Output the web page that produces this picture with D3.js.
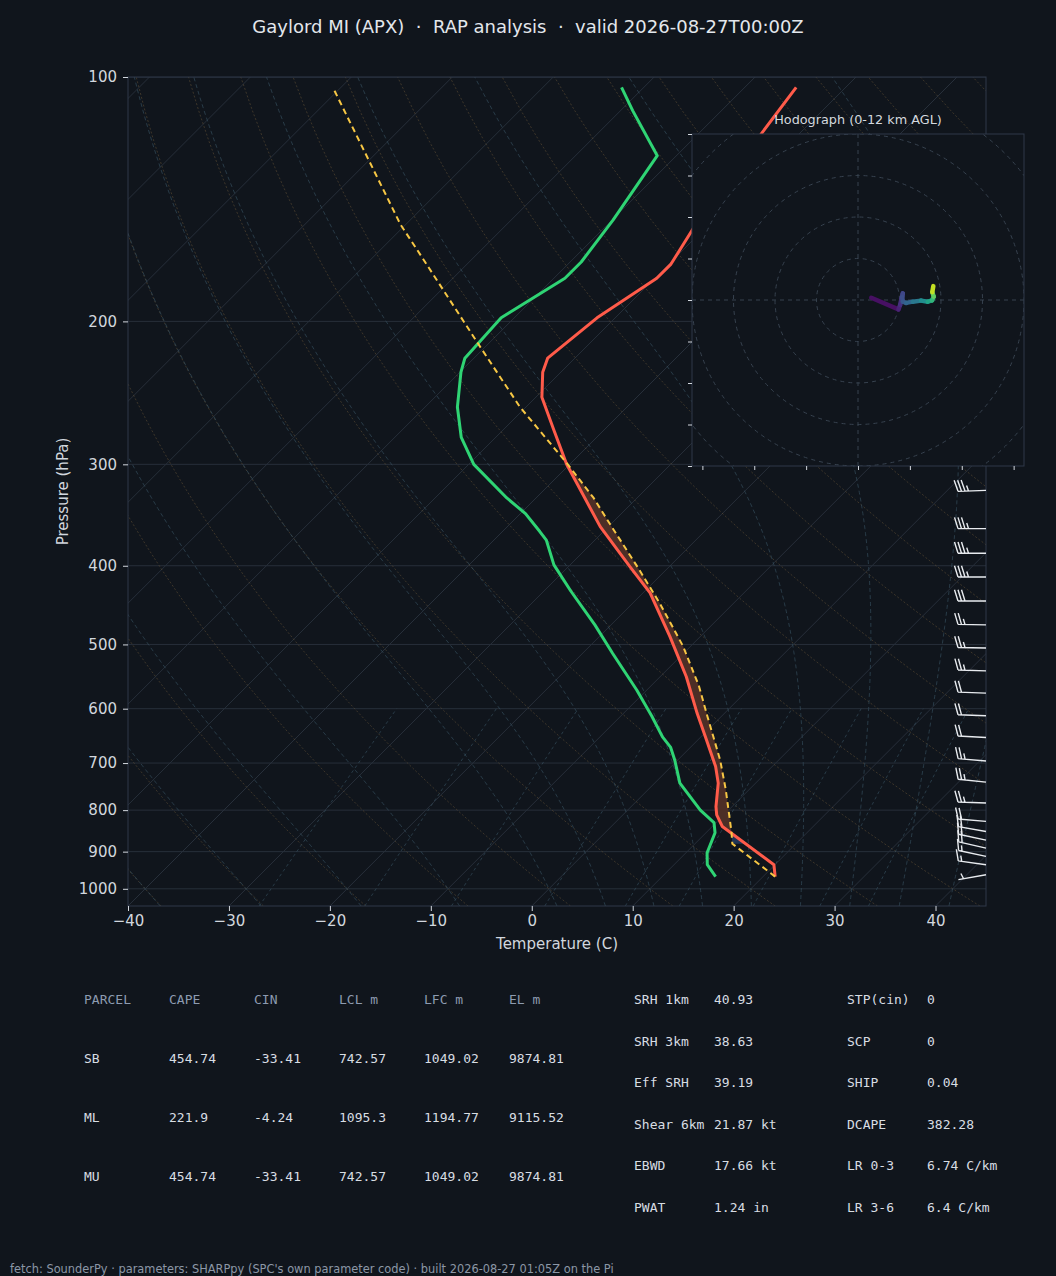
<!DOCTYPE html>
<html>
<head>
<meta charset="utf-8">
<script src="https://cdn.jsdelivr.net/npm/d3@7"></script>
<style>
  body { margin: 0; background: #10151c; }
  text { font-family: "DejaVu Sans", sans-serif; }
  .mono { font-family: "DejaVu Sans Mono", monospace; }
</style>
</head>
<body>
<svg id="chart" width="1056" height="1276"></svg>
<script>
// ---- sounding values ----
const tempPres = [966, 934, 838, 811, 792, 741, 707, 652, 608, 548, 489, 432, 401, 358, 300, 272, 248, 231, 222, 198, 177, 170, 154, 117, 103];
const tempC    = [21.2, 19.9, 11.0, 9.3, 8.4, 6.3, 4.4, 0.6, -2.7, -7.4, -13.0, -19.3, -23.9, -30.8, -40.3, -45.0, -49.4, -51.8, -52.7, -51.8, -49.8, -49.8, -51.1, -53.8, -54.9];

const dwptPres = [966, 934, 903, 853, 829, 800, 741, 694, 669, 650, 613, 569, 513, 473, 430, 399, 372, 363, 345, 330, 300, 278, 255, 231, 222, 198, 177, 169, 150, 125, 110, 103];
const dwptC    = [15.3, 13.3, 12.1, 10.9, 9.8, 7.2, 2.5, -0.3, -2.0, -3.8, -6.9, -11.0, -17.0, -21.6, -27.3, -31.6, -34.8, -36.3, -39.5, -42.9, -49.5, -53.4, -56.8, -59.9, -60.9, -61.3, -58.9, -58.9, -59.9, -61.9, -68.8, -72.2];

const parcelPres = [966, 880, 850, 755, 694, 613, 563, 503, 445, 405, 351, 330, 299, 255, 215, 166, 152, 103];
const parcelC    = [21.2, 13.7, 12.4, 7.7, 4.2, -1.4, -5.2, -10.7, -17.3, -22.6, -30.8, -34.3, -40.4, -50.6, -60.5, -75.4, -80.5, -100.8];

// LCL pressure, top of CIN band, EL-ish top of CAPE band (hPa)
const lclPres = 880;
const cinTopPres = 820;
const capeTopPres = 290;

// wind barbs
const barbPres = [961, 934, 912, 891, 871, 850, 826, 784, 739, 696, 651, 612, 574, 539, 505, 473, 442, 413, 386, 360, 323];
const barbSpd  = [5, 15, 15, 20, 20, 20, 20, 25, 25, 25, 20, 20, 20, 25, 25, 25, 30, 35, 35, 35, 35];
const barbDir  = [260, 278, 282, 283, 282, 280, 275, 272, 276, 275, 273, 272, 272, 272, 271, 271, 270, 270, 270, 270, 268];

// hodograph (kt) and height (km AGL)
const hodoU = [6.4, 19.5, 20.3, 21.0, 21.6, 21.3, 21.6, 23.2, 26.4, 30.4, 33.6, 35.7, 36.5, 35.8, 36.3];
const hodoV = [1.1, -4.5, -2.4, 0.8, 3.2, 1.5, -0.8, -1.4, -0.8, -0.3, -0.8, -0.2, 1.6, 3.8, 6.7];
const hodoH = [0, 1.0, 1.4, 1.9, 2.4, 2.7, 3.0, 3.5, 4.3, 5.3, 6.5, 7.4, 8.4, 9.8, 12];

// ticks
const pressureTicks = [100, 200, 300, 400, 500, 600, 700, 800, 900, 1000];
const tempTicks = [-40, -30, -20, -10, 0, 10, 20, 30, 40];
const hodoUTicks = [-75, -50, -25, 0, 25, 50, 75];
const hodoVTicks = [-80, -60, -40, -20, 0, 20, 40, 60, 80];
const hodoRings = [20, 40, 60, 80, 100, 120];

// parameter tables
const parcelHeader = ["PARCEL", "CAPE", "CIN", "LCL m", "LFC m", "EL m"];
const parcelRows = [
  ["SB", "454.74", "-33.41", "742.57", "1049.02", "9874.81"],
  ["ML", "221.9", "-4.24", "1095.3", "1194.77", "9115.52"],
  ["MU", "454.74", "-33.41", "742.57", "1049.02", "9874.81"]
];
const kinLabels = ["SRH 1km", "SRH 3km", "Eff SRH", "Shear 6km", "EBWD", "PWAT"];
const kinValues = ["40.93", "38.63", "39.19", "21.87 kt", "17.66 kt", "1.24 in"];
const thermoLabels = ["STP(cin)", "SCP", "SHIP", "DCAPE", "LR 0-3", "LR 3-6"];
const thermoValues = ["0", "0", "0.04", "382.28", "6.74 C/km", "6.4 C/km"];

const titleText = "Gaylord MI (APX)  \u00b7  RAP analysis  \u00b7  valid 2026-08-27T00:00Z";
const footerText = "fetch: SounderPy \u00b7 parameters: SHARPpy (SPC's own parameter code) \u00b7 built 2026-08-27 01:05Z on the Pi";

// ---- layout ----
const bg = "#10151c";
const gridColor = "#272f3a";
const spineColor = "#2e3948";
const tickText = "#d2d7de";
const plotLeft = 128, plotTop = 77, plotW = 858, plotH = 829;

const svg = d3.select("#chart");
svg.append("rect").attr("width", 1056).attr("height", 1276).attr("fill", bg);

const xScale = d3.scaleLinear().domain([-40, 45]).range([0, plotW]);
const yScale = d3.scaleLog().domain([1050, 100]).range([plotH, 0]);
// 45 degree skew in screen space
function skewX(t, p) { return xScale(t) + (plotH - yScale(p)); }

svg.append("defs").append("clipPath").attr("id", "plotClip")
  .append("rect").attr("width", plotW).attr("height", plotH);

const plot = svg.append("g").attr("transform", `translate(${plotLeft},${plotTop})`);
const inner = plot.append("g").attr("clip-path", "url(#plotClip)");

const skewLine = d3.line().x(d => skewX(d.t, d.p)).y(d => yScale(d.p));

// background pressure grid
inner.selectAll(".pgrid").data(pressureTicks).enter().append("line")
  .attr("x1", 0).attr("x2", plotW)
  .attr("y1", d => yScale(d)).attr("y2", d => yScale(d))
  .attr("stroke", gridColor).attr("stroke-width", 1);

// isotherms
inner.selectAll(".iso").data(d3.range(-130, 50, 10)).enter().append("line")
  .attr("x1", d => skewX(d, 1050)).attr("y1", yScale(1050))
  .attr("x2", d => skewX(d, 100)).attr("y2", yScale(100))
  .attr("stroke", gridColor).attr("stroke-width", 1);

// dry adiabats (MetPy-style families, reference 1000 hPa)
const bgPres = d3.range(0, 96).map(i => 1050 - i * 10);
const dryT0 = d3.range(-40, 250, 10);
dryT0.forEach(t0 => {
  const pts = bgPres.map(p => ({p: p, t: (t0 + 273.15) * Math.pow(p / 1000, 0.28571) - 273.15}));
  inner.append("path").attr("d", skewLine(pts)).attr("fill", "none")
    .attr("stroke", "#6a5538").attr("stroke-opacity", 0.5)
    .attr("stroke-width", 1).attr("stroke-dasharray", "2,2");
});

// moist adiabats
const Rd = 287.04749, Cp = 1004.6662, Lv = 2.50084e6, eps = 0.6219569;
function moistRate(p, tK) {
  const es = 6.112 * Math.exp(17.67 * (tK - 273.15) / (tK - 29.65));
  const rs = eps * es / (p - es);
  return (1 / p) * (Rd * tK + Lv * rs) / (Cp + (Lv * Lv * rs * eps / (Rd * tK * tK)));
}
function rk4Step(p, tK, h) {
  const k1 = moistRate(p, tK);
  const k2 = moistRate(p + h / 2, tK + h / 2 * k1);
  const k3 = moistRate(p + h / 2, tK + h / 2 * k2);
  const k4 = moistRate(p + h, tK + h * k3);
  return tK + h / 6 * (k1 + 2 * k2 + 2 * k3 + k4);
}
function moistProfile(t0) {
  const out = [];
  let tK = t0 + 273.15, p = 1000;
  const up = [{p: 1000, t: t0}];
  for (let i = 0; i < 180; i++) {
    tK = rk4Step(p, tK, -5);
    p -= 5;
    up.push({p: p, t: tK - 273.15});
  }
  tK = t0 + 273.15; p = 1000;
  for (let i = 0; i < 10; i++) {
    tK = rk4Step(p, tK, 5);
    p += 5;
    out.unshift({p: p, t: tK - 273.15});
  }
  return out.concat(up);
}
const moistT0 = d3.range(-40, 0, 10).concat(d3.range(0, 46, 5));
moistT0.forEach(t0 => {
  inner.append("path").attr("d", skewLine(moistProfile(t0))).attr("fill", "none")
    .attr("stroke", "#35505f").attr("stroke-opacity", 0.65)
    .attr("stroke-width", 1).attr("stroke-dasharray", "4,3");
});

// mixing ratio lines
const mixRatios = [0.0004, 0.001, 0.002, 0.004, 0.007, 0.01, 0.016, 0.024, 0.032];
const mixPres = d3.range(0, 46).map(i => 1050 - i * 10);
mixRatios.forEach(w => {
  const pts = mixPres.map(p => {
    const e = p * w / (eps + w);
    const a = Math.log(e / 6.112);
    return {p: p, t: 243.5 * a / (17.67 - a)};
  });
  inner.append("path").attr("d", skewLine(pts)).attr("fill", "none")
    .attr("stroke", "#35505f").attr("stroke-opacity", 0.65)
    .attr("stroke-width", 1).attr("stroke-dasharray", "3,3");
});

// CAPE / CIN shading between parcel and environment
function valueAt(presArr, valArr, p) {
  for (let i = 0; i < presArr.length - 1; i++) {
    if (p <= presArr[i] && p >= presArr[i + 1]) {
      const f = Math.log(presArr[i] / p) / Math.log(presArr[i] / presArr[i + 1]);
      return valArr[i] + f * (valArr[i + 1] - valArr[i]);
    }
  }
  return NaN;
}
const bandArea = d3.area()
  .y(d => yScale(d.p))
  .x0(d => skewX(d.a, d.p))
  .x1(d => skewX(d.b, d.p));

const capeBand = d3.range(lclPres, capeTopPres - 1, -1).map(p => {
  const te = valueAt(tempPres, tempC, p), tp = valueAt(parcelPres, parcelC, p);
  return {p: p, a: te, b: Math.max(te, tp)};
});
inner.append("path").attr("d", bandArea(capeBand)).attr("fill", "#4d2e26");

const cinBand = d3.range(lclPres, cinTopPres - 1, -1).map(p => {
  const te = valueAt(tempPres, tempC, p), tp = valueAt(parcelPres, parcelC, p);
  return {p: p, a: tp, b: Math.max(te, tp)};
});
inner.append("path").attr("d", bandArea(cinBand)).attr("fill", "#1f3556");

// profiles
const tempPts = tempPres.map((p, i) => ({p: p, t: tempC[i]}));
const dwptPts = dwptPres.map((p, i) => ({p: p, t: dwptC[i]}));
const parcelPts = parcelPres.map((p, i) => ({p: p, t: parcelC[i]}));

inner.append("path").attr("d", skewLine(dwptPts)).attr("fill", "none")
  .attr("stroke", "#2fd474").attr("stroke-width", 3).attr("stroke-linejoin", "round");
inner.append("path").attr("d", skewLine(tempPts)).attr("fill", "none")
  .attr("stroke", "#ff5b4a").attr("stroke-width", 3).attr("stroke-linejoin", "round");
inner.append("path").attr("d", skewLine(parcelPts)).attr("fill", "none")
  .attr("stroke", "#f7c744").attr("stroke-width", 2).attr("stroke-dasharray", "6,4");

// frame and axes
plot.append("rect").attr("width", plotW).attr("height", plotH)
  .attr("fill", "none").attr("stroke", spineColor).attr("stroke-width", 1);

const xAxis = d3.axisBottom(xScale).tickValues(tempTicks).tickSize(5).tickPadding(4)
  .tickFormat(d => d < 0 ? "\u2212" + Math.abs(d) : String(d));
const gx = plot.append("g").attr("transform", `translate(0,${plotH})`).call(xAxis);
const yAxis = d3.axisLeft(yScale).tickValues(pressureTicks).tickSize(5).tickPadding(6)
  .tickFormat(d3.format("d"));
const gy = plot.append("g").call(yAxis);
[gx, gy].forEach(g => {
  g.select(".domain").remove();
  g.selectAll(".tick line").attr("stroke", tickText);
  g.selectAll(".tick text").attr("fill", tickText).style("font-size", "15px")
    .style("font-family", "DejaVu Sans");
});

svg.append("text").attr("x", plotLeft + plotW / 2).attr("y", 949)
  .attr("text-anchor", "middle").attr("fill", tickText).style("font-size", "15px")
  .text("Temperature (C)");
svg.append("text").attr("transform", `translate(68,${plotTop + plotH / 2}) rotate(-90)`)
  .attr("text-anchor", "middle").attr("fill", tickText).style("font-size", "15px")
  .text("Pressure (hPa)");

// wind barbs at the right edge
function barbPath(x, y, spd, dir) {
  const L = 28, sp = 3.5, h = 11.2, w = 7;
  const r = dir * Math.PI / 180;
  const d = [Math.sin(r), -Math.cos(r)];
  const n = [-d[1], d[0]];
  let s = Math.round(spd / 5) * 5;
  const flags = Math.floor(s / 50); s -= flags * 50;
  const fulls = Math.floor(s / 10); s -= fulls * 10;
  const half = s >= 5;
  const tx = x + d[0] * L, ty = y + d[1] * L;
  let path = `M${x},${y}L${tx},${ty}`;
  let off = 0;
  const at = o => [tx - d[0] * o, ty - d[1] * o];
  for (let i = 0; i < flags; i++) {
    const a = at(off), c = at(off + w);
    path += `M${a[0]},${a[1]}L${a[0] + n[0] * h - d[0] * w / 2},${a[1] + n[1] * h - d[1] * w / 2}L${c[0]},${c[1]}Z`;
    off += w + sp;
  }
  for (let i = 0; i < fulls; i++) {
    const a = at(off);
    path += `M${a[0]},${a[1]}L${a[0] + n[0] * h + d[0] * w / 2},${a[1] + n[1] * h + d[1] * w / 2}`;
    off += sp;
  }
  if (half) {
    if (flags === 0 && fulls === 0) off += 1.5 * sp;
    const a = at(off);
    path += `M${a[0]},${a[1]}L${a[0] + n[0] * h / 2 + d[0] * w / 4},${a[1] + n[1] * h / 2 + d[1] * w / 4}`;
  }
  return path;
}
plot.selectAll(".barb").data(barbPres).enter().append("path")
  .attr("d", (p, i) => barbPath(plotW, yScale(p), barbSpd[i], barbDir[i]))
  .attr("fill", "#e8ebef").attr("stroke", "#e8ebef").attr("stroke-width", 1.4);

// ---- hodograph inset ----
const hx = 692, hy = 134, hs = 332;
const hodo = svg.append("g").attr("transform", `translate(${hx},${hy})`);
const uScale = d3.scaleLinear().domain([-80, 80]).range([0, hs]);
const vScale = d3.scaleLinear().domain([-80, 80]).range([hs, 0]);
svg.select("defs").append("clipPath").attr("id", "hodoClip")
  .append("rect").attr("width", hs).attr("height", hs);
hodo.append("rect").attr("width", hs).attr("height", hs).attr("fill", bg);
const hin = hodo.append("g").attr("clip-path", "url(#hodoClip)");
hin.selectAll(".ring").data(hodoRings).enter().append("circle")
  .attr("cx", uScale(0)).attr("cy", vScale(0)).attr("r", d => uScale(d) - uScale(0))
  .attr("fill", "none").attr("stroke", "#37424f").attr("stroke-width", 1).attr("stroke-dasharray", "4,4");
hin.append("line").attr("x1", 0).attr("x2", hs).attr("y1", vScale(0)).attr("y2", vScale(0))
  .attr("stroke", "#37424f").attr("stroke-dasharray", "4,4");
hin.append("line").attr("y1", 0).attr("y2", hs).attr("x1", uScale(0)).attr("x2", uScale(0))
  .attr("stroke", "#37424f").attr("stroke-dasharray", "4,4");

const hodoSegs = d3.range(hodoU.length - 1).map(i => ({
  x1: uScale(hodoU[i]), y1: vScale(hodoV[i]),
  x2: uScale(hodoU[i + 1]), y2: vScale(hodoV[i + 1]),
  h: (hodoH[i] + hodoH[i + 1]) / 2
}));
hin.selectAll(".seg").data(hodoSegs).enter().append("line")
  .attr("x1", d => d.x1).attr("y1", d => d.y1).attr("x2", d => d.x2).attr("y2", d => d.y2)
  .attr("stroke", d => d3.interpolateViridis(d.h / 12))
  .attr("stroke-width", 4.5).attr("stroke-linecap", "round");

hodo.append("rect").attr("width", hs).attr("height", hs)
  .attr("fill", "none").attr("stroke", spineColor).attr("stroke-width", 1);
const hax = d3.axisBottom(uScale).tickValues(hodoUTicks).tickSize(4).tickFormat("");
const hay = d3.axisLeft(vScale).tickValues(hodoVTicks).tickSize(4).tickFormat("");
const ghx = hodo.append("g").attr("transform", `translate(0,${hs})`).call(hax);
const ghy = hodo.append("g").call(hay);
[ghx, ghy].forEach(g => {
  g.select(".domain").remove();
  g.selectAll(".tick line").attr("stroke", tickText);
});
svg.append("text").attr("x", hx + hs / 2).attr("y", 124).attr("text-anchor", "middle")
  .attr("fill", "#d4d9df").style("font-size", "12.8px").text("Hodograph (0-12 km AGL)");

// ---- title ----
svg.append("text").attr("x", 528).attr("y", 33).attr("text-anchor", "middle")
  .attr("fill", "#e3e7ec").style("font-size", "18px").attr("xml:space", "preserve")
  .style("white-space", "pre").text(titleText);

// ---- parameter tables ----
const colX = [84, 169, 254, 339, 424, 509];
const rowY = [1004, 1063, 1122, 1181];
const tbl = svg.append("g");
parcelHeader.forEach((h, j) => {
  tbl.append("text").attr("class", "mono").attr("x", colX[j]).attr("y", rowY[0])
    .attr("fill", "#8d9bb0").style("font-size", "13px").text(h);
});
parcelRows.forEach((row, i) => {
  row.forEach((v, j) => {
    tbl.append("text").attr("class", "mono").attr("x", colX[j]).attr("y", rowY[i + 1])
      .attr("fill", "#d8dde3").style("font-size", "13px").text(v);
  });
});
const rY = d3.range(6).map(i => 1004 + i * 41.6);
kinLabels.forEach((l, i) => {
  tbl.append("text").attr("class", "mono").attr("x", 634).attr("y", rY[i])
    .attr("fill", "#d8dde3").style("font-size", "13px").text(l);
  tbl.append("text").attr("class", "mono").attr("x", 714).attr("y", rY[i])
    .attr("fill", "#d8dde3").style("font-size", "13px").text(kinValues[i]);
  tbl.append("text").attr("class", "mono").attr("x", 847).attr("y", rY[i])
    .attr("fill", "#d8dde3").style("font-size", "13px").text(thermoLabels[i]);
  tbl.append("text").attr("class", "mono").attr("x", 927).attr("y", rY[i])
    .attr("fill", "#d8dde3").style("font-size", "13px").text(thermoValues[i]);
});

// ---- footer ----
svg.append("text").attr("x", 10).attr("y", 1273).attr("fill", "#8c97a6")
  .style("font-size", "11.4px").text(footerText);
</script>
</body>
</html>
